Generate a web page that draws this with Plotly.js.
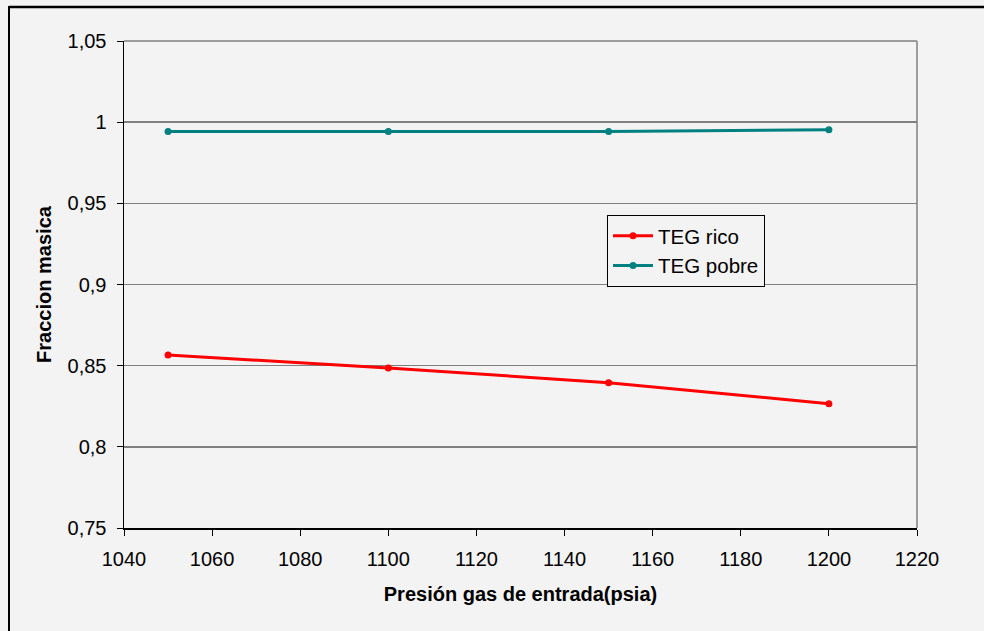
<!DOCTYPE html>
<html>
<head>
<meta charset="utf-8">
<script src="https://cdn.plot.ly/plotly-3.0.1.min.js"></script>
<style>html,body{margin:0;padding:0;background:#f3f3f3;}#chart{width:984px;height:631px;}</style>
</head>
<body>
<div id="chart"></div>
<script>
var presion = [1050, 1100, 1150, 1200];
var tegRico = [0.8566, 0.8486, 0.8395, 0.8266];
var tegPobre = [0.9943, 0.9943, 0.9943, 0.9953];
var yTickVals = [0.75, 0.8, 0.85, 0.9, 0.95, 1, 1.05];
var yTickText = ['0,75', '0,8', '0,85', '0,9', '0,95', '1', '1,05'];
var xTickVals = [1040, 1060, 1080, 1100, 1120, 1140, 1160, 1180, 1200, 1220];

var font = 'Liberation Sans, Arial, sans-serif';
var L = 124, R = 917, T = 41, B = 528;
var pw = R - L, ph = B - T;
function px(x) { return (x - L) / pw; }
function py(y) { return (B - y) / ph; }

var traces = [
  {x: presion, y: tegRico, name: 'TEG rico', type: 'scatter', mode: 'lines+markers',
   line: {color: '#ff0000', width: 3}, marker: {color: '#ff0000', size: 7}},
  {x: presion, y: tegPobre, name: 'TEG pobre', type: 'scatter', mode: 'lines+markers',
   line: {color: '#008080', width: 3}, marker: {color: '#008080', size: 7}}
];

var layout = {
  width: 984, height: 631,
  margin: {l: L, r: 984 - R, t: T, b: 631 - B},
  paper_bgcolor: '#f3f3f3', plot_bgcolor: '#f3f3f3',
  font: {family: font, size: 20, color: '#000'},
  showlegend: true,
  legend: {x: px(607), y: py(215), xanchor: 'left', yanchor: 'top',
           bgcolor: '#f3f3f3', bordercolor: '#000', borderwidth: 1,
           itemwidth: 40, tracegroupgap: 0,
           font: {family: font, size: 20.5, color: '#000'}},
  xaxis: {range: [1040, 1220], tickvals: xTickVals, ticks: 'outside', ticklen: 6,
          tickcolor: '#000', showgrid: false, zeroline: false, showline: true,
          linecolor: '#000', linewidth: 1.5, ticklabelstandoff: 6,
          tickfont: {family: font, size: 20, color: '#000'},
          title: {text: 'Presión gas de entrada(psia)', standoff: 18,
                  font: {family: font, size: 20, color: '#000', weight: 'bold'}}},
  yaxis: {range: [0.75, 1.05], tickvals: yTickVals, ticktext: yTickText,
          ticks: 'outside', ticklen: 6, tickcolor: '#000',
          showgrid: true, gridcolor: '#808080', gridwidth: 1.5,
          zeroline: false, showline: true, linecolor: '#000', linewidth: 1.5,
          ticklabelstandoff: 6,
          tickfont: {family: font, size: 20, color: '#000'},
          title: {text: 'Fraccion masica', standoff: 10,
                  font: {family: font, size: 20, color: '#000', weight: 'bold'}}},
  shapes: [
    {type: 'line', xref: 'paper', yref: 'paper', x0: 0, x1: 1, y0: 1, y1: 1,
     line: {color: '#808080', width: 1.5}},
    {type: 'line', xref: 'paper', yref: 'paper', x0: 1, x1: 1, y0: 0, y1: 1,
     line: {color: '#808080', width: 1.5}},
    {type: 'line', xref: 'paper', yref: 'paper', x0: px(9), x1: px(9), y0: py(6), y1: py(700),
     line: {color: '#000', width: 2}},
    {type: 'line', xref: 'paper', yref: 'paper', x0: px(9), x1: px(1100), y0: py(7), y1: py(7),
     line: {color: '#000', width: 2.5}}
  ]
};

Plotly.newPlot('chart', traces, layout, {displayModeBar: false, staticPlot: true});
</script>
</body>
</html>
